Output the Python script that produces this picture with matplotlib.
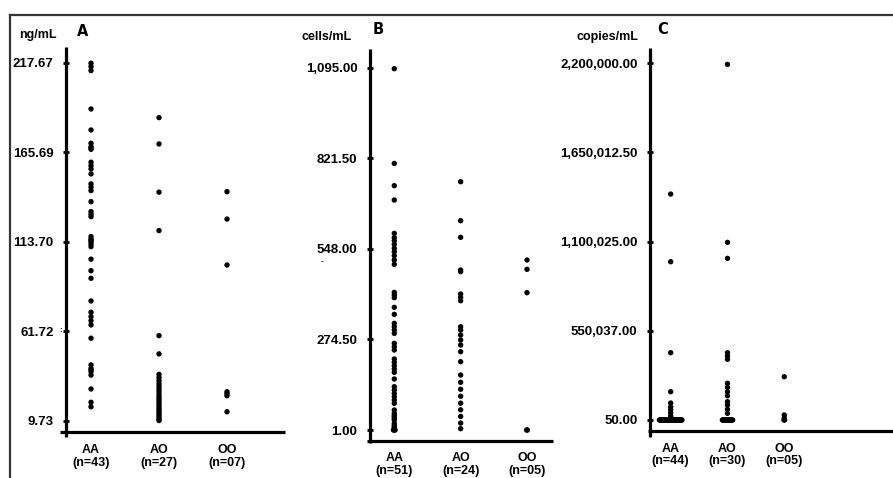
import matplotlib
matplotlib.use('Agg')
import matplotlib.pyplot as plt
from matplotlib.lines import Line2D
import numpy as np

plt.rcParams['font.family'] = ['Liberation Sans', 'DejaVu Sans']
plt.rcParams['font.weight'] = 'bold'

W, H = 893, 478

groups = ['AA', 'AO', 'OO']

# panel A: ng/mL
a_n = ['(n=43)', '(n=27)', '(n=07)']
a_aa = [217.5, 215.5, 213.2, 190.9, 178.7, 171.0, 169.0, 167.5, 168.2, 160.0, 158.0,
        156.1, 153.2, 147.4, 145.5, 143.5, 137.1, 131.3, 129.8, 128.4, 116.8, 115.3,
        113.9, 112.5, 111.0, 114.6, 103.7, 97.0, 92.6, 79.4, 72.9, 70.3, 68.0, 65.5,
        57.8, 42.3, 40.3, 38.4, 36.4, 39.4, 28.3, 20.6, 18.0]
a_ao = [185.9, 170.6, 142.6, 120.3, 59.3, 48.7, 36.8, 35.0, 33.3, 31.5, 30.0, 28.4,
        27.0, 25.5, 24.0, 22.8, 21.5, 20.2, 19.0, 17.6, 16.4, 15.2, 14.0, 12.9, 11.8,
        10.8, 10.0]
a_oo = [142.9, 127.0, 100.3, 26.7, 25.6, 24.4, 15.1]
a_ticks = [9.73, 61.72, 113.70, 165.69, 217.67]
a_labels = ['9.73', '61.72', '113.70', '165.69', '217.67']

# panel B: cells/mL
b_n = ['(n=51)', '(n=24)', '(n=05)']
b_aa = [1092, 806, 738.7, 695.4, 594.8, 581.7, 572.7, 561.6, 549.5, 539.4, 527.4,
        514.3, 501.2, 416.7, 408.6, 400.6, 371.4, 350.2, 323.1, 313.0, 302.9, 292.9,
        262.7, 252.6, 242.5, 215.4, 205.3, 195.2, 185.2, 175.1, 155.0, 131.8, 121.8,
        111.7, 101.6, 91.6, 81.5, 61.4, 51.3, 41.3, 36.2, 31.2, 21.1, 11.1, 6.0,
        45, 15, 3, 1, 1, 1]
b_ao = [750.7, 632.9, 582.8, 484.1, 479.0, 411.6, 401.7, 391.4, 312.9, 302.9, 287.8,
        272.7, 257.6, 237.4, 207.2, 167, 145, 124, 103, 82, 62, 42, 22, 5]
b_oo = [514.3, 486.2, 415.6, 1, 1]
b_ticks = [1.0, 274.5, 548.0, 821.5, 1095.0]
b_labels = ['1.00', '274.50', '548.00', '821.50', '1,095.00']

# panel C: copies/mL
c_n = ['(n=44)', '(n=30)', '(n=05)']
c_aa = [1393500, 976100, 415000, 174500, 104800, 80200, 61700, 43200, 24700, 12400] + [50] * 34
c_ao = [2193000, 1095700, 997000, 415000, 394600, 374300, 226300, 201600, 174500,
        149800, 112800, 92500, 66000, 41300] + [50] * 16
c_oo = [267000, 30900, 12400, 50, 50]
c_ticks = [50, 550037.5, 1100025, 1650012.5, 2200000]
c_labels = ['50.00', '550,037.00', '1,100,025.00', '1,650,012.50', '2,200,000.00']


def rect(x0, x1, ytop, ybot):
    return [x0 / W, 1 - ybot / H, (x1 - x0) / W, (ybot - ytop) / H]


def spread(vals, step):
    # tied values are laid out side by side
    vals = np.asarray(vals, dtype=float)
    offs = np.zeros(len(vals))
    for v in np.unique(vals):
        idx = np.where(vals == v)[0]
        k = len(idx)
        offs[idx] = (np.arange(k) - (k - 1) / 2) * step
    return offs


def panel(box, ylim, xlim, series, ticks, labels, nlabels, ext_left, ext_down, xpad):
    ax = fig.add_axes(rect(*box))
    for i, vals in enumerate(series):
        x = i + spread(vals, 0.012)
        ax.scatter(x, vals, s=15, color='black', edgecolors='none', clip_on=False, zorder=3)
    ax.set_ylim(*ylim)
    ax.set_xlim(*xlim)
    for s in ax.spines.values():
        s.set_visible(False)
    w_px = (box[1] - box[0])
    h_px = (box[3] - box[2])
    ax.add_line(Line2D([0, 0], [-ext_down / h_px, 1], transform=ax.transAxes,
                       color='black', lw=2.3, clip_on=False, solid_capstyle='butt'))
    ax.add_line(Line2D([-ext_left / w_px, 1], [0, 0], transform=ax.transAxes,
                       color='black', lw=2.3, clip_on=False, solid_capstyle='butt'))
    ax.set_yticks(ticks)
    ax.set_yticklabels(labels, fontsize=9.5, fontweight='bold')
    ax.tick_params(axis='y', direction='inout', length=4.5, width=2, pad=6.8)
    ax.set_xticks(range(3))
    ax.set_xticklabels([g + '\n' + n for g, n in zip(groups, nlabels)],
                       fontsize=9, fontweight='bold', linespacing=1.1)
    ax.tick_params(axis='x', length=0, pad=xpad)
    ax.patch.set_visible(False)
    return ax


fig = plt.figure(figsize=(W / 100, H / 100), dpi=100)

panel((66, 285, 47, 432), (3.34, 226.9), (-0.368, 2.853), [a_aa, a_ao, a_oo],
      a_ticks, a_labels, a_n, 6, 5, 8.5)
panel((370, 553, 49, 441), (-32.2, 1151.4), (-0.366, 2.392), [b_aa, b_ao, b_oo],
      b_ticks, b_labels, b_n, 3, 2, 8)
panel((650, 893, 48.3, 430.7), (-65942, 2292500), (-0.364, 3.914), [c_aa, c_ao, c_oo],
      c_ticks, c_labels, c_n, 2, 6, 8.5)


def ftext(x, y, s, **kw):
    fig.text(x / W, 1 - y / H, s, ha='center', va='center', fontweight='bold', **kw)


ftext(38, 35, 'ng/mL', fontsize=9)
ftext(327, 37, 'cells/mL', fontsize=9)
ftext(607, 37, 'copies/mL', fontsize=9)
ftext(82.5, 31, 'A', fontsize=10.5, family='DejaVu Sans')
ftext(378, 30, 'B', fontsize=10.5, family='DejaVu Sans')
ftext(662.5, 29, 'C', fontsize=10.5, family='DejaVu Sans')
# small scan marks
ftext(61, 331, ':', fontsize=6)
ftext(322, 262, '-', fontsize=6)

# frame
fig.add_artist(Line2D([10 / W, 1], [1 - 15 / H, 1 - 15 / H], transform=fig.transFigure,
                      color='#333333', lw=1.6))
fig.add_artist(Line2D([10 / W, 10 / W], [0, 1 - 15 / H], transform=fig.transFigure,
                      color='#333333', lw=1.6))

fig.savefig('out.png', dpi=100)
